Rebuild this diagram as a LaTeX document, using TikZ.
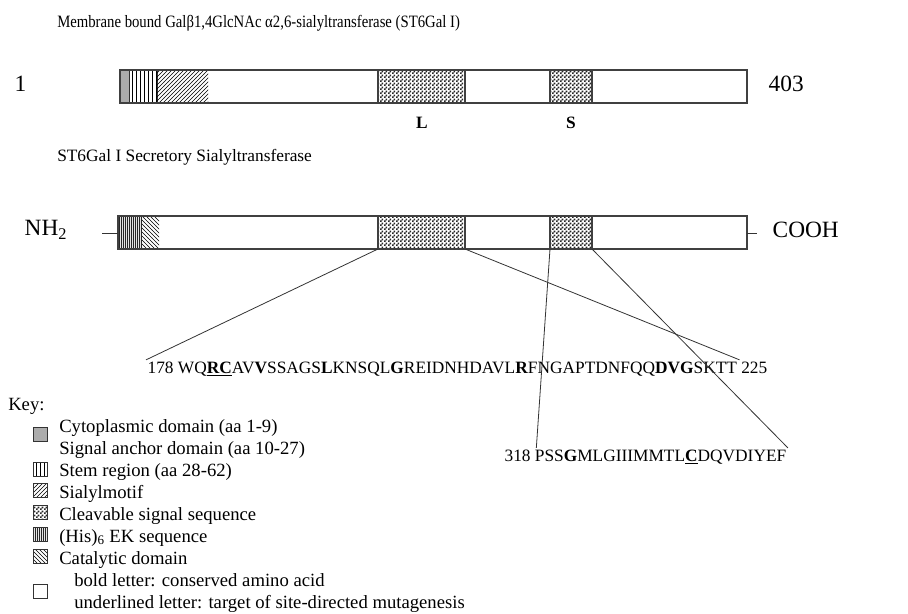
\documentclass[tikz,border=0pt]{standalone}
\usepackage{fontspec}
\setmainfont{Liberation Serif}
\newfontfamily\narrowserif[FakeStretch=0.85]{Liberation Serif}
\usetikzlibrary{positioning,patterns}

% fine checker for the cleavable signal sequence
\pgfdeclarepatternformonly{finecheck}{\pgfpointorigin}{\pgfpoint{3pt}{3pt}}{\pgfpoint{3pt}{3pt}}{%
  \pgfpathrectangle{\pgfpointorigin}{\pgfpoint{1.5pt}{1.5pt}}%
  \pgfpathrectangle{\pgfpoint{1.5pt}{1.5pt}}{\pgfpoint{1.5pt}{1.5pt}}%
  \pgfusepath{fill}}
% dense stripes for the (His)6 tag
\pgfdeclarepatternformonly{densevert}{\pgfpointorigin}{\pgfpoint{1.8pt}{1pt}}{\pgfpoint{1.8pt}{1pt}}{%
  \pgfpathrectangle{\pgfpointorigin}{\pgfpoint{1pt}{1pt}}%
  \pgfusepath{fill}}

\newcommand\ttlfont{\narrowserif\fontsize{13pt}{15pt}\selectfont}
\newcommand\subfont{\fontsize{13pt}{15pt}\selectfont}
\newcommand\bigfont{\fontsize{17.5pt}{19pt}\selectfont}
\newcommand\seqfont{\fontsize{13pt}{15pt}\selectfont}
\newcommand\keyfont{\fontsize{14pt}{16pt}\selectfont}

\tikzset{
  barline/.style={draw=black!75,line width=0.8pt},
  cleave/.style={barline,pattern=finecheck,pattern color=black!85},
  keybox/.style={draw=black!80,line width=0.6pt,minimum size=10.5pt,inner sep=0pt},
  keytext/.style={anchor=base west,font=\keyfont,inner sep=0pt},
  seqtext/.style={anchor=base west,font=\seqfont,inner sep=1pt},
  link/.style={draw=black!80,line width=0.6pt},
}

\begin{document}
\begin{tikzpicture}[x=0.75pt,y=-0.75pt]
\useasboundingbox (0,0) rectangle (908,614);

% membrane bound enzyme
\node[anchor=base west,font=\ttlfont,inner sep=0pt] (title1) at (57,27)
  {Membrane bound Galβ1,4GlcNAc α2,6-sialyltransferase (ST6Gal I)};
\draw[barline,fill=white] (120,70) rectangle (747,103);
\fill[gray!65] (120,70) rectangle (129,103);
\fill[pattern=vertical lines] (129,70) rectangle (157,103);
\draw[black!80] (129,70) -- (129,103) (157,70) -- (157,103);
\fill[pattern=north east lines] (157,70) rectangle (208,103);
\draw[cleave] (378,70) rectangle (465,103);
\draw[cleave] (550,70) rectangle (592,103);
\draw[barline] (120,70) rectangle (747,103);
\node[anchor=west,font=\bigfont] (first) at (10,84) {1};
\node[anchor=west,font=\bigfont] (last) at (764,84) {403};
\node[font=\seqfont\bfseries] (labL) at (422,123) {L};
\node[font=\seqfont\bfseries] (labS) at (571,123) {S};

% secretory form
\node[anchor=base west,font=\subfont,inner sep=0pt] (title2) at (57,161)
  {ST6Gal I Secretory Sialyltransferase};
\draw[barline,fill=white] (118,216) rectangle (747,249);
\fill[pattern=densevert,pattern color=black!85] (118,216) rectangle (142,249);
\fill[pattern=north west lines] (142,216) rectangle (159,249);
\draw[cleave] (378,216) coordinate (Lnw) rectangle (465,249) coordinate (Lse);
\draw[cleave] (550,216) coordinate (Snw) rectangle (592,249) coordinate (Sse);
\draw[barline] (118,216) coordinate (b2nw) rectangle (747,249) coordinate (b2se);

\node[anchor=west,font=\bigfont] (nh) at (20,230) {NH\textsubscript{2}};
\node[anchor=west,font=\bigfont] (cooh) at (768,230) {COOH};
\coordinate (nhTick) at (102,233);
\coordinate (coTick) at (757,233);
\draw[link] (nhTick) -- (nhTick -| b2nw);
\draw[link] (coTick -| b2se) -- (coTick);

% sequences of the two motifs
\node[seqtext] (seqA) at (146,373)
  {178 WQ\underline{\textbf{RC}}AV\textbf{V}SSAGS\textbf{L}KNSQL\textbf{G}REIDNHDAVL\textbf{R}FNGAPTDNFQQ\textbf{DVG}SKTT 225};
\node[seqtext] (seqB) at (503,461)
  {318 PSS\textbf{G}MLGIIIMMTL\underline{\textbf{C}}DQVDIYEF};

\draw[link] (Lnw |- Lse) -- (seqA.north west);
\draw[link] (Lse) -- ([xshift=-22pt]seqA.north east);
\draw[link] (Snw |- Sse) -- ([xshift=25pt]seqB.north west);
\draw[link] (Sse) -- (seqB.north east);

% key
\node[keytext] (key) at (8,410) {Key:};
\node[keytext] (k1) at (59,432) {Cytoplasmic domain (aa 1-9)};
\node[keytext] (k2) at (59,454) {Signal anchor domain (aa 10-27)};
\node[keytext] (k3) at (59,476) {Stem region (aa 28-62)};
\node[keytext] (k4) at (59,498) {Sialylmotif};
\node[keytext] (k5) at (59,520) {Cleavable signal sequence};
\node[keytext] (k6) at (59,542) {(His)\textsubscript{6} EK sequence};
\node[keytext] (k7) at (59,564) {Catalytic domain};
\node[keytext] (k8) at (74,586) {bold letter: conserved amino acid};
\node[keytext] (k9) at (74,608) {underlined letter: target of site-directed mutagenesis};

\node[keybox,fill=gray!65] (b1) at (40,434) {};
\node[keybox,pattern=vertical lines] (b2) at (40,469) {};
\node[keybox,pattern=north east lines] (b3) at (40,490) {};
\node[keybox,pattern=finecheck,pattern color=black!85] (b4) at (40,512) {};
\node[keybox,pattern=densevert,pattern color=black!85] (b5) at (40,534) {};
\node[keybox,pattern=north west lines] (b6) at (40,556) {};
\node[keybox,fill=white] (b7) at (40,591) {};
\end{tikzpicture}
\end{document}
